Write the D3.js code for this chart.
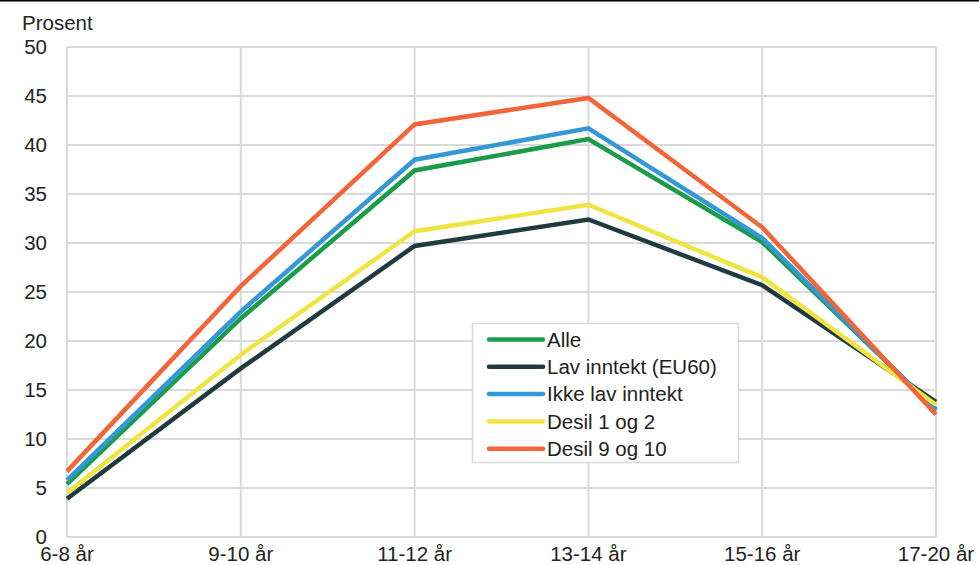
<!DOCTYPE html>
<html>
<head>
<meta charset="utf-8">
<script src="https://cdn.jsdelivr.net/npm/d3@7"></script>
<style>
  body { margin: 0; background: #fff; }
  svg { display: block; font-family: "Liberation Sans", Arial, sans-serif; }
</style>
</head>
<body>
<svg id="chart" width="979" height="565"></svg>
<script>
// Age groups along the x axis
const categories = ["6-8 år", "9-10 år", "11-12 år", "13-14 år", "15-16 år", "17-20 år"];

// Share (percent) per age group for each group
const alle      = [5.4, 22.3, 37.4, 40.6, 30.1, 13.0];
const lavInntekt = [3.9, 17.2, 29.7, 32.4, 25.7, 13.8];
const ikkeLav   = [5.8, 23.0, 38.5, 41.7, 30.5, 12.9];
const desil12   = [4.5, 18.6, 31.2, 33.9, 26.5, 13.5];
const desil910  = [6.7, 25.6, 42.1, 44.8, 31.6, 12.5];

const seriesNames = ["Alle", "Lav inntekt (EU60)", "Ikke lav inntekt", "Desil 1 og 2", "Desil 9 og 10"];
const seriesColors = ["#1a9c48", "#1f3b3f", "#3598d6", "#f0e443", "#f26538"];
const seriesValues = [alle, lavInntekt, ikkeLav, desil12, desil910];

const yTicks = [0, 5, 10, 15, 20, 25, 30, 35, 40, 45, 50];

const svg = d3.select("#chart");
const margin = { left: 67, right: 43, top: 47, bottom: 28 };
const W = 979, H = 565;
const FS = 20.5;

const x = d3.scalePoint().domain(categories).range([margin.left, W - margin.right]);
const y = d3.scaleLinear().domain([0, 50]).range([H - margin.bottom, margin.top]);

// top rule
svg.append("line").attr("x1", 0).attr("x2", W).attr("y1", 0.5).attr("y2", 0.5)
  .attr("stroke", "#000").attr("stroke-width", 2);

// horizontal gridlines
svg.append("g").selectAll("line").data(yTicks).join("line")
  .attr("x1", margin.left).attr("x2", W - margin.right)
  .attr("y1", d => y(d)).attr("y2", d => y(d))
  .attr("stroke", "#d9d9d9").attr("stroke-width", 2);

// vertical gridlines
svg.append("g").selectAll("line").data(categories).join("line")
  .attr("x1", d => x(d)).attr("x2", d => x(d))
  .attr("y1", y(0)).attr("y2", y(50))
  .attr("stroke", "#d9d9d9").attr("stroke-width", 2);

// y tick labels
svg.append("g").selectAll("text").data(yTicks).join("text")
  .attr("x", 47).attr("y", d => y(d)).attr("dy", "0.35em")
  .attr("text-anchor", "end").attr("font-size", FS).attr("fill", "#222")
  .text(d => d);

// x tick labels
svg.append("g").selectAll("text").data(categories).join("text")
  .attr("x", d => x(d)).attr("y", 561)
  .attr("text-anchor", "middle").attr("font-size", FS).attr("fill", "#222")
  .text(d => d);

// axis title
svg.append("text").attr("x", 22).attr("y", 30).attr("font-size", FS).attr("fill", "#222").text("Prosent");

// lines
const line = d3.line().x((d, i) => x(categories[i])).y(d => y(d));
svg.append("g").selectAll("path").data(seriesValues).join("path")
  .attr("d", d => line(d))
  .attr("fill", "none")
  .attr("stroke", (d, i) => seriesColors[i])
  .attr("stroke-width", 4.5)
  .attr("stroke-linejoin", "miter");

// legend
const lg = svg.append("g").attr("transform", "translate(472,323)");
lg.append("rect").attr("x", 0.5).attr("y", 0.5).attr("width", 266).attr("height", 139)
  .attr("fill", "#fff").attr("stroke", "#d9d9d9").attr("stroke-width", 1.5);
const rows = lg.selectAll("g").data(seriesNames).join("g")
  .attr("transform", (d, i) => `translate(0,${16.5 + i * 27.3})`);
rows.append("line").attr("x1", 17).attr("x2", 71).attr("y1", 0).attr("y2", 0)
  .attr("stroke", (d, i) => seriesColors[i]).attr("stroke-width", 4.5).attr("stroke-linecap", "round");
rows.append("text").attr("x", 75).attr("y", 0).attr("dy", "0.35em")
  .attr("font-size", FS).attr("fill", "#222").text(d => d);
</script>
</body>
</html>
